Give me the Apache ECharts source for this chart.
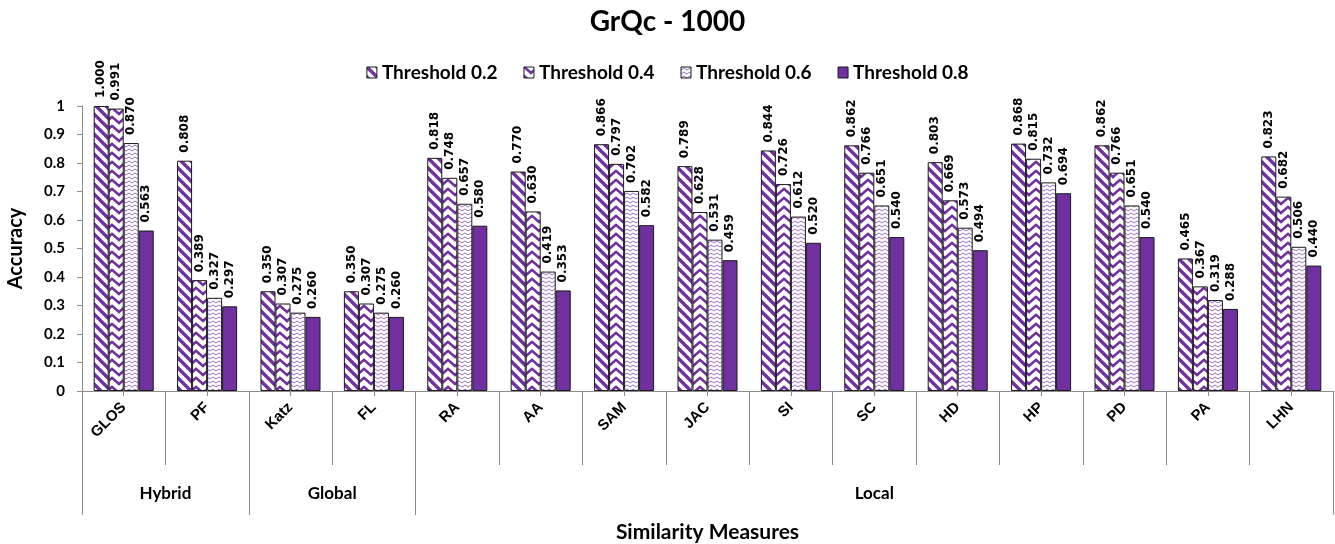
<!DOCTYPE html>
<html>
<head>
<meta charset="utf-8">
<script src="https://cdn.jsdelivr.net/npm/echarts@6/dist/echarts.min.js"></script>
<style>
  html, body { margin: 0; padding: 0; background: #fff; }
  #chart { width: 1335px; height: 544px; }
</style>
</head>
<body>
<div id="chart"></div>
<script>
// Similarity measures on the x axis, grouped by family
const categories = ['GLOS', 'PF', 'Katz', 'FL', 'RA', 'AA', 'SAM', 'JAC', 'SI', 'SC', 'HD', 'HP', 'PD', 'PA', 'LHN'];
const groupNames = ['Hybrid', 'Global', 'Local'];
const groupSizes = [2, 2, 11];

const seriesNames = ['Threshold 0.2', 'Threshold 0.4', 'Threshold 0.6', 'Threshold 0.8'];
const threshold02 = [1.000, 0.808, 0.350, 0.350, 0.818, 0.770, 0.866, 0.789, 0.844, 0.862, 0.803, 0.868, 0.862, 0.465, 0.823];
const threshold04 = [0.991, 0.389, 0.307, 0.307, 0.748, 0.630, 0.797, 0.628, 0.726, 0.766, 0.669, 0.815, 0.766, 0.367, 0.682];
const threshold06 = [0.870, 0.327, 0.275, 0.275, 0.657, 0.419, 0.702, 0.531, 0.612, 0.651, 0.573, 0.732, 0.651, 0.319, 0.506];
const threshold08 = [0.563, 0.297, 0.260, 0.260, 0.580, 0.353, 0.582, 0.459, 0.520, 0.540, 0.494, 0.694, 0.540, 0.288, 0.440];

const yTicks = ['0', '0.1', '0.2', '0.3', '0.4', '0.5', '0.6', '0.7', '0.8', '0.9', '1'];

const PURPLE = '#7030A0';
const FONT = 'Lato, "Open Sans", sans-serif';
const AXIS_GREY = '#8c8c8c';

// ---- fill patterns ----
function makeTile(w, h, draw) {
  const c = document.createElement('canvas');
  c.width = w; c.height = h;
  const ctx = c.getContext('2d');
  ctx.fillStyle = '#fff';
  ctx.fillRect(0, 0, w, h);
  draw(ctx, w, h);
  return { image: c, repeat: 'repeat' };
}

// wide downward diagonal stripes
const patDiag = makeTile(10, 10, (ctx, w, h) => {
  ctx.strokeStyle = PURPLE;
  ctx.lineWidth = 3.4;
  for (let k = -1; k <= 1; k++) {
    ctx.beginPath();
    ctx.moveTo(k * w - 2, -2);
    ctx.lineTo(k * w + w + 2, h + 2);
    ctx.stroke();
  }
});

// zigzag (chevron) stripes
const patZig = makeTile(14, 9, (ctx, w, h) => {
  ctx.strokeStyle = PURPLE;
  ctx.lineWidth = 2.6;
  for (let k = -1; k <= 1; k++) {
    const y = k * h;
    ctx.beginPath();
    ctx.moveTo(-1, y - 1);
    ctx.lineTo(w / 2, y + 6);
    ctx.lineTo(w + 1, y - 1);
    ctx.stroke();
  }
});

// small waves
const patWave = makeTile(6, 4, (ctx, w, h) => {
  ctx.strokeStyle = '#9a6cc0';
  ctx.lineWidth = 1;
  ctx.beginPath();
  ctx.moveTo(0, 3);
  ctx.lineTo(w / 2, 1);
  ctx.lineTo(w, 3);
  ctx.stroke();
});

const fills = [patDiag, patZig, patWave, PURPLE];
const values = [threshold02, threshold04, threshold06, threshold08];

// group boundaries and centres on a 0..N value scale
const groupEdges = [0];
groupSizes.forEach(s => groupEdges.push(groupEdges[groupEdges.length - 1] + s));
const groupCenters = groupSizes.map((s, i) => groupEdges[i] + s / 2);
const catCenters = categories.map((_, i) => i + 0.5);

const chart = echarts.init(document.getElementById('chart'));

const series = seriesNames.map((name, i) => ({
  name: name,
  type: 'bar',
  xAxisIndex: 0,
  yAxisIndex: 0,
  data: values[i],
  barGap: '0%',
  barCategoryGap: '28%',
  itemStyle: { color: fills[i], borderColor: '#1a1a1a', borderWidth: 1 },
  emphasis: { disabled: true },
  label: {
    show: true,
    position: 'top',
    rotate: 90,
    align: 'left',
    verticalAlign: 'middle',
    distance: 8,
    formatter: p => p.value.toFixed(3),
    fontFamily: '"DejaVu Sans", sans-serif',
    fontWeight: 'bold',
    fontSize: 12,
    color: '#000',
    textBorderColor: '#fff',
    textBorderWidth: 2
  }
}));

chart.setOption({
  animation: false,
  backgroundColor: '#fff',
  title: {
    text: 'GrQc - 1000',
    left: 'center',
    top: 3,
    textStyle: { fontFamily: FONT, fontWeight: 'bold', fontSize: 28, color: '#000' }
  },
  legend: {
    top: 58,
    left: 'center',
    itemWidth: 10,
    itemHeight: 11,
    itemGap: 26,
    icon: 'rect',
    data: seriesNames,
    itemStyle: { borderColor: '#1a1a1a', borderWidth: 1 },
    textStyle: { fontFamily: FONT, fontWeight: 'bold', fontSize: 19, color: '#000' }
  },
  grid: { left: 82, right: 2, top: 106, bottom: 153, containLabel: false, outerBoundsMode: 'none' },
  xAxis: [
    {
      // measure names, slanted
      type: 'category',
      data: categories,
      axisLine: { lineStyle: { color: AXIS_GREY, width: 1 } },
      axisTick: { show: true, alignWithLabel: false, length: 74, lineStyle: { color: AXIS_GREY } },
      axisLabel: {
        show: true,
        interval: 0,
        rotate: 45,
        margin: 14,
        formatter: v => v,
        fontWeight: 'bold',
        fontSize: 15,
        color: '#000'
      },
      splitLine: { show: false }
    },
    {
      // family groups below the measure names
      type: 'value',
      min: 0,
      max: categories.length,
      position: 'bottom',
      axisLine: { show: false },
      axisTick: { show: true, customValues: groupEdges, length: 124, lineStyle: { color: AXIS_GREY } },
      axisLabel: {
        show: true,
        customValues: groupCenters,
        margin: 94,
        formatter: v => groupNames[groupCenters.indexOf(v)] || '',
        fontFamily: FONT,
        fontWeight: 'bold',
        fontSize: 17,
        color: '#000'
      },
      splitLine: { show: false },
      name: 'Similarity Measures',
      nameLocation: 'middle',
      nameGap: 131,
      nameTextStyle: { fontFamily: FONT, fontWeight: 'bold', fontSize: 21, color: '#000' }
    },
    {
      // short marks at each measure centre
      type: 'value',
      min: 0,
      max: categories.length,
      position: 'bottom',
      axisLine: { show: false },
      axisTick: { show: true, customValues: catCenters, length: 5, lineStyle: { color: AXIS_GREY } },
      axisLabel: { show: false },
      splitLine: { show: false }
    }
  ],
  yAxis: {
    type: 'value',
    min: 0,
    max: 1,
    interval: 0.1,
    axisLine: { show: true, lineStyle: { color: AXIS_GREY } },
    axisTick: { show: true, length: 5, lineStyle: { color: AXIS_GREY } },
    splitLine: { show: false },
    axisLabel: {
      margin: 17,
      formatter: v => yTicks[Math.round(v * 10)],
      fontFamily: FONT,
      fontWeight: 'bold',
      fontSize: 15,
      color: '#000'
    },
    name: 'Accuracy',
    nameLocation: 'middle',
    nameGap: 56,
    nameTextStyle: { fontFamily: FONT, fontWeight: 'bold', fontSize: 20, color: '#000' }
  },
  series: series
});
</script>
</body>
</html>
